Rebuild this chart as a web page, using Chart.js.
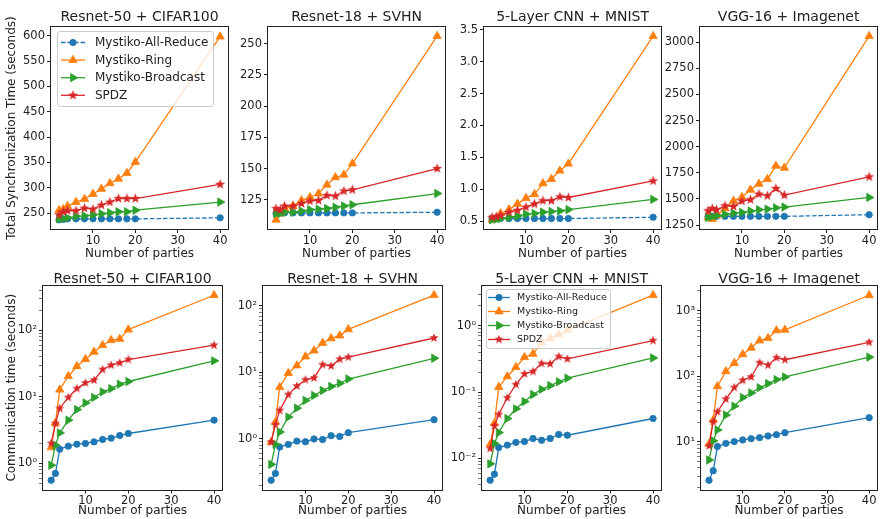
<!DOCTYPE html>
<html>
<head>
<meta charset="utf-8">
<script src="https://cdn.jsdelivr.net/npm/chart.js@4.4.0/dist/chart.umd.min.js"></script>
<style>
  html, body { margin: 0; padding: 0; background: #fff; }
  #wrap { position: relative; width: 883px; height: 519px; overflow: hidden; }
  #wrap canvas { position: absolute; }
</style>
</head>
<body>
<div id="wrap"></div>
<script>
// x values shared by every panel
const parties = [2, 3, 4, 6, 8, 10, 12, 14, 16, 18, 20, 40];
const seriesNames = ['Mystiko-All-Reduce', 'Mystiko-Ring', 'Mystiko-Broadcast', 'SPDZ'];
const xTicks = [10, 20, 30, 40];

// Top row: total synchronization time (seconds)
const syncResnet50AllReduce = [237, 238, 239, 239, 239, 239, 239, 239, 239, 239, 239, 241];
const syncResnet50Ring = [256, 258, 264, 272, 278, 288, 298, 309, 318, 329, 351, 598];
const syncResnet50Broadcast = [239, 240, 241, 244, 245, 247, 249, 251, 253, 253, 256, 272];
const syncResnet50Spdz = [247, 253, 255, 255, 260, 258, 266, 272, 279, 279, 279, 307];

const syncResnet18AllReduce = [114, 114.5, 114.5, 114.5, 114.5, 114.5, 114.5, 114.5, 114.5, 114.5, 114.5, 115];
const syncResnet18Ring = [109, 114, 118, 120, 124.5, 127, 130, 137, 143, 145, 154, 256];
const syncResnet18Broadcast = [114, 114, 115, 115, 116, 117, 117.5, 118, 119, 120, 121, 130];
const syncResnet18Spdz = [118, 117, 120, 120, 122, 124, 124.5, 128.5, 128, 132, 133, 150];

const syncCnnAllReduce = [0.54, 0.54, 0.54, 0.54, 0.54, 0.54, 0.54, 0.54, 0.54, 0.54, 0.54, 0.56];
const syncCnnRing = [0.52, 0.54, 0.62, 0.68, 0.77, 0.86, 0.92, 1.09, 1.16, 1.29, 1.40, 3.40];
const syncCnnBroadcast = [0.52, 0.53, 0.54, 0.56, 0.58, 0.61, 0.62, 0.64, 0.65, 0.66, 0.68, 0.84];
const syncCnnSpdz = [0.56, 0.57, 0.59, 0.64, 0.67, 0.72, 0.77, 0.82, 0.82, 0.88, 0.87, 1.13];

const syncVggAllReduce = [1330, 1332, 1333, 1333, 1333, 1333, 1333, 1333, 1333, 1333, 1333, 1349];
const syncVggRing = [1323, 1307, 1340, 1409, 1482, 1517, 1587, 1644, 1689, 1816, 1797, 3057];
const syncVggBroadcast = [1323, 1333, 1339, 1352, 1364, 1371, 1384, 1396, 1403, 1415, 1422, 1514];
const syncVggSpdz = [1387, 1409, 1396, 1434, 1428, 1479, 1492, 1546, 1530, 1600, 1536, 1711];

// Bottom row: communication time (seconds), log scale
const commResnet50AllReduce = [0.56, 0.71, 1.64, 1.82, 1.95, 2.0, 2.11, 2.29, 2.4, 2.63, 2.82, 4.47];
const commResnet50Ring = [1.74, 4.07, 12.8, 20.4, 28.8, 36.7, 47.3, 59.6, 70.8, 74, 102, 335];
const commResnet50Broadcast = [0.94, 1.88, 2.88, 4.47, 6.45, 8.1, 9.8, 11.9, 13.3, 15.5, 17, 34.7];
const commResnet50Spdz = [2.0, 3.98, 6.7, 9.8, 13.3, 16.2, 17.8, 25.7, 29.9, 32.4, 36.3, 59.6];

const commResnet18AllReduce = [0.237, 0.30, 0.75, 0.82, 0.92, 0.90, 0.99, 0.97, 1.11, 1.08, 1.23, 1.93];
const commResnet18Ring = [0.89, 1.78, 5.95, 9.7, 12.6, 17.2, 21.1, 27.5, 32.2, 35.5, 44.1, 144];
const commResnet18Broadcast = [0.41, 0.82, 1.26, 2.11, 2.88, 3.76, 4.47, 5.3, 6.1, 6.8, 7.9, 16.2];
const commResnet18Spdz = [0.89, 1.62, 2.66, 4.6, 6.2, 7.7, 8.2, 13.0, 12.4, 15.7, 16.8, 32.7];

const commCnnAllReduce = [0.0047, 0.0058, 0.0146, 0.0159, 0.0175, 0.018, 0.020, 0.0188, 0.020, 0.023, 0.0224, 0.040];
const commCnnRing = [0.0163, 0.034, 0.119, 0.172, 0.237, 0.335, 0.376, 0.556, 0.646, 0.733, 0.86, 2.88];
const commCnnBroadcast = [0.0083, 0.0168, 0.0246, 0.040, 0.056, 0.072, 0.092, 0.110, 0.125, 0.143, 0.162, 0.327];
const commCnnSpdz = [0.0141, 0.031, 0.046, 0.082, 0.13, 0.188, 0.204, 0.27, 0.266, 0.343, 0.316, 0.596];

const commVggAllReduce = [2.6, 3.64, 8.5, 9.5, 10.1, 10.7, 11.2, 11.6, 12.3, 12.9, 13.8, 23.4];
const commVggRing = [9.3, 21.5, 70.4, 119, 159, 216, 272, 351, 381, 500, 512, 1720];
const commVggBroadcast = [5.3, 10.4, 15.2, 25.7, 35.1, 47.5, 55.8, 67, 77.5, 89, 97.7, 196];
const commVggSpdz = [8.7, 20.3, 28.8, 44.8, 67.4, 87, 97.7, 161, 148, 192, 179, 330];

// y tick values / labels
const syncResnet50Ticks = [250, 300, 350, 400, 450, 500, 550, 600];
const syncResnet18Ticks = [125, 150, 175, 200, 225, 250];
const syncCnnTicks = [0.5, 1.0, 1.5, 2.0, 2.5, 3.0, 3.5];
const syncCnnTickLabels = ['0.5', '1.0', '1.5', '2.0', '2.5', '3.0', '3.5'];
const syncVggTicks = [1250, 1500, 1750, 2000, 2250, 2500, 2750, 3000];
const commResnetTicks = [1, 10, 100];
const commResnetTickLabels = ['10⁰', '10¹', '10²'];
const commCnnTicks = [0.01, 0.1, 1];
const commCnnTickLabels = ['10⁻²', '10⁻¹', '10⁰'];
const commVggTicks = [10, 100, 1000];
const commVggTickLabels = ['10¹', '10²', '10³'];

const COLORS = ['#1f77b4', '#ff7f0e', '#2ca02c', '#d62728'];
const INK = '#222';

Chart.defaults.font.family = '"DejaVu Sans", sans-serif';
Chart.defaults.color = INK;

// filled 5-point star like matplotlib's '*'
function makeStar(r, color) {
  const s = Math.ceil(r * 2 + 2);
  const c = document.createElement('canvas');
  c.width = s; c.height = s;
  const g = c.getContext('2d');
  g.translate(s / 2, s / 2);
  g.beginPath();
  for (let i = 0; i < 10; i++) {
    const rad = i % 2 ? r * 0.42 : r;
    const a = -Math.PI / 2 + i * Math.PI / 5;
    g.lineTo(Math.cos(a) * rad, Math.sin(a) * rad);
  }
  g.closePath();
  g.fillStyle = color;
  g.fill();
  return c;
}
const starTop = makeStar(5.2, COLORS[3]);
const starBottom = makeStar(4.8, COLORS[3]);

// minor log ticks between min and max (tick marks only)
function logTickMarks(min, max) {
  const out = [];
  for (let d = Math.floor(Math.log10(min)); d <= Math.ceil(Math.log10(max)); d++) {
    for (let k = 1; k <= 9; k++) {
      const v = +(k * Math.pow(10, d)).toPrecision(6);
      if (v >= min && v <= max) out.push(v);
    }
  }
  return out;
}

// draws title, spines and the in-axes legend
const panelDecor = {
  id: 'panelDecor',
  afterDatasetsDraw(chart, args, opts) {
    const { ctx, chartArea: a } = chart;
    ctx.save();
    ctx.strokeStyle = INK;
    ctx.lineWidth = 1;
    ctx.strokeRect(Math.round(a.left) - 0.5, Math.round(a.top) - 0.5,
      Math.round(a.right - a.left) + 1, Math.round(a.bottom - a.top) + 1);

    ctx.fillStyle = INK;
    ctx.font = '14px "DejaVu Sans"';
    ctx.textAlign = 'center';
    ctx.textBaseline = 'alphabetic';
    ctx.fillText(opts.title, (a.left + a.right) / 2, opts.titleY);

    const lg = opts.legend;
    if (lg) {
      const bx = a.left + lg.dx, by = a.top + lg.dy;
      ctx.beginPath();
      ctx.roundRect(bx + 0.5, by + 0.5, lg.w, lg.h, 2.5);
      ctx.fillStyle = 'rgba(255,255,255,0.8)';
      ctx.fill();
      ctx.strokeStyle = '#cccccc';
      ctx.stroke();
      ctx.font = lg.font + 'px "DejaVu Sans"';
      ctx.textAlign = 'left';
      ctx.textBaseline = 'middle';
      chart.data.datasets.forEach((ds, i) => {
        const yy = by + lg.row0 + i * lg.rowH;
        ctx.save();
        ctx.strokeStyle = ds.borderColor;
        ctx.lineWidth = ds.borderWidth;
        ctx.setLineDash(ds.borderDash || []);
        ctx.beginPath();
        ctx.moveTo(bx + lg.lineX0, yy);
        ctx.lineTo(bx + lg.lineX1, yy);
        ctx.stroke();
        ctx.setLineDash([]);
        ctx.fillStyle = ds.pointBackgroundColor;
        ctx.strokeStyle = ds.pointBorderColor;
        ctx.lineWidth = ds.pointBorderWidth;
        Chart.helpers.drawPoint(ctx, {
          pointStyle: ds.pointStyle, radius: ds.pointRadius,
          rotation: ds.pointRotation || 0, borderWidth: ds.pointBorderWidth
        }, (bx + lg.lineX0 + bx + lg.lineX1) / 2, yy);
        ctx.restore();
        ctx.fillStyle = INK;
        ctx.fillText(seriesNames[i], bx + lg.textX, yy + 0.5);
      });
    }
    ctx.restore();
  }
};

const topRow = { top: 0, height: 263, padTop: 27, xh: 34, titleY: 21, xTitlePad: 2, dashed: true, star: starTop };
const bottomRow = { top: 262, height: 257, padTop: 24, xh: 29.5, titleY: 20.5, xTitlePad: 0.5, dashed: false, star: starBottom };

const legendTop = { dx: 6, dy: 4, w: 156, h: 75, row0: 11.5, rowH: 17.6, lineX0: 4, lineX1: 28, textX: 38, font: 12 };
const legendBottom = { dx: 4, dy: 3, w: 124, h: 59, row0: 8.5, rowH: 14, lineX0: 2, lineX1: 24, textX: 31, font: 9.5 };

const panels = [
  { row: topRow, left: 0, width: 234, yw: 51, padRight: 3, title: 'Resnet-50 + CIFAR100',
    series: [syncResnet50AllReduce, syncResnet50Ring, syncResnet50Broadcast, syncResnet50Spdz],
    yType: 'linear', yMin: 219, yMax: 617, yTicks: syncResnet50Ticks, yLabels: null,
    yTitle: 'Total Synchronization Time (seconds)', legend: legendTop },
  { row: topRow, left: 232, width: 219, yw: 36, padRight: 3, title: 'Resnet-18 + SVHN',
    series: [syncResnet18AllReduce, syncResnet18Ring, syncResnet18Broadcast, syncResnet18Spdz],
    yType: 'linear', yMin: 101.6, yMax: 263.3, yTicks: syncResnet18Ticks, yLabels: null },
  { row: topRow, left: 448, width: 219, yw: 36, padRight: 3, title: '5-Layer CNN + MNIST',
    series: [syncCnnAllReduce, syncCnnRing, syncCnnBroadcast, syncCnnSpdz],
    yType: 'linear', yMin: 0.376, yMax: 3.544, yTicks: syncCnnTicks, yLabels: syncCnnTickLabels },
  { row: topRow, left: 664, width: 219, yw: 36, padRight: 2, title: 'VGG-16 + Imagenet',
    series: [syncVggAllReduce, syncVggRing, syncVggBroadcast, syncVggSpdz],
    yType: 'linear', yMin: 1212, yMax: 3145, yTicks: syncVggTicks, yLabels: null },

  { row: bottomRow, left: 0, width: 228, yw: 43, padRight: 3, title: 'Resnet-50 + CIFAR100',
    series: [commResnet50AllReduce, commResnet50Ring, commResnet50Broadcast, commResnet50Spdz],
    yType: 'logarithmic', yMin: 0.407, yMax: 461, yTicks: commResnetTicks, yLabels: commResnetTickLabels,
    yTitle: 'Communication time (seconds)' },
  { row: bottomRow, left: 227, width: 221, yw: 36, padRight: 3, title: 'Resnet-18 + SVHN',
    series: [commResnet18AllReduce, commResnet18Ring, commResnet18Broadcast, commResnet18Spdz],
    yType: 'logarithmic', yMin: 0.172, yMax: 198, yTicks: commResnetTicks, yLabels: commResnetTickLabels },
  { row: bottomRow, left: 446, width: 221, yw: 36, padRight: 3, title: '5-Layer CNN + MNIST',
    series: [commCnnAllReduce, commCnnRing, commCnnBroadcast, commCnnSpdz],
    yType: 'logarithmic', yMin: 0.00341, yMax: 3.96, yTicks: commCnnTicks, yLabels: commCnnTickLabels,
    legend: legendBottom },
  { row: bottomRow, left: 665, width: 218, yw: 36, padRight: 1, title: 'VGG-16 + Imagenet',
    series: [commVggAllReduce, commVggRing, commVggBroadcast, commVggSpdz],
    yType: 'logarithmic', yMin: 1.88, yMax: 2381, yTicks: commVggTicks, yLabels: commVggTickLabels }
];

const tickFont = { size: 11.5 };
const wrap = document.getElementById('wrap');

panels.forEach(p => {
  const canvas = document.createElement('canvas');
  canvas.width = p.width;
  canvas.height = p.row.height;
  canvas.style.left = p.left + 'px';
  canvas.style.top = p.row.top + 'px';
  wrap.appendChild(canvas);

  const styles = [
    { pointStyle: 'circle', radius: 3.2, rotation: 0 },
    { pointStyle: 'triangle', radius: 4.8, rotation: 0 },
    { pointStyle: 'triangle', radius: 4.8, rotation: 90 },
    { pointStyle: p.row.star, radius: 5, rotation: 0 }
  ];

  const datasets = p.series.map((vals, i) => ({
    label: seriesNames[i],
    data: vals.map((v, j) => ({ x: parties[j], y: v })),
    borderColor: COLORS[i],
    backgroundColor: COLORS[i],
    borderWidth: 1.3,
    borderDash: (i === 0 && p.row.dashed) ? [4.5, 2] : [],
    pointStyle: styles[i].pointStyle,
    pointRadius: styles[i].radius,
    pointRotation: styles[i].rotation,
    pointBackgroundColor: COLORS[i],
    pointBorderColor: COLORS[i],
    pointBorderWidth: 0.8,
    tension: 0,
    fill: false,
    clip: false,
    order: 3 - i
  }));

  const isLog = p.yType === 'logarithmic';
  const yMarks = isLog ? logTickMarks(p.yMin, p.yMax) : p.yTicks;

  new Chart(canvas, {
    type: 'line',
    data: { datasets },
    options: {
      responsive: false,
      animation: false,
      devicePixelRatio: 1,
      layout: { padding: { top: p.row.padTop, right: p.padRight, left: 0, bottom: 0 } },
      plugins: {
        legend: { display: false },
        tooltip: { enabled: false },
        panelDecor: { title: p.title, titleY: p.row.titleY, legend: p.legend || null }
      },
      scales: {
        x: {
          type: 'linear',
          min: 0.1,
          max: 41.9,
          afterBuildTicks: s => { s.ticks = xTicks.map(v => ({ value: v })); },
          afterFit: s => { s.height = p.row.xh; },
          ticks: { font: tickFont, color: INK, padding: 1, maxRotation: 0, autoSkip: false,
            callback: v => String(v) },
          grid: { display: true, drawOnChartArea: false, tickLength: 4, color: INK },
          border: { display: false },
          title: { display: true, text: 'Number of parties', font: { size: 12 }, color: INK,
            padding: { top: 0, bottom: p.row.xTitlePad } }
        },
        y: {
          type: p.yType,
          min: p.yMin,
          max: p.yMax,
          afterBuildTicks: s => { s.ticks = yMarks.map(v => ({ value: v })); },
          afterFit: s => { s.width = p.yw; },
          ticks: {
            font: tickFont, color: INK, padding: 2, autoSkip: false,
            callback: v => {
              const k = p.yTicks.findIndex(t => Math.abs(t - v) < Math.abs(t) * 1e-6);
              if (k < 0) return '';
              return p.yLabels ? p.yLabels[k] : String(v);
            }
          },
          grid: {
            display: true, drawOnChartArea: false, tickLength: 4, color: INK,
            tickWidth: c => (isLog && c.tick && p.yTicks.indexOf(c.tick.value) < 0) ? 0.6 : 1
          },
          border: { display: false },
          title: { display: !!p.yTitle, text: p.yTitle || '', font: { size: 12 }, color: INK,
            padding: { top: 5, bottom: 0 } }
        }
      }
    },
    plugins: [panelDecor]
  });
});
</script>
</body>
</html>
